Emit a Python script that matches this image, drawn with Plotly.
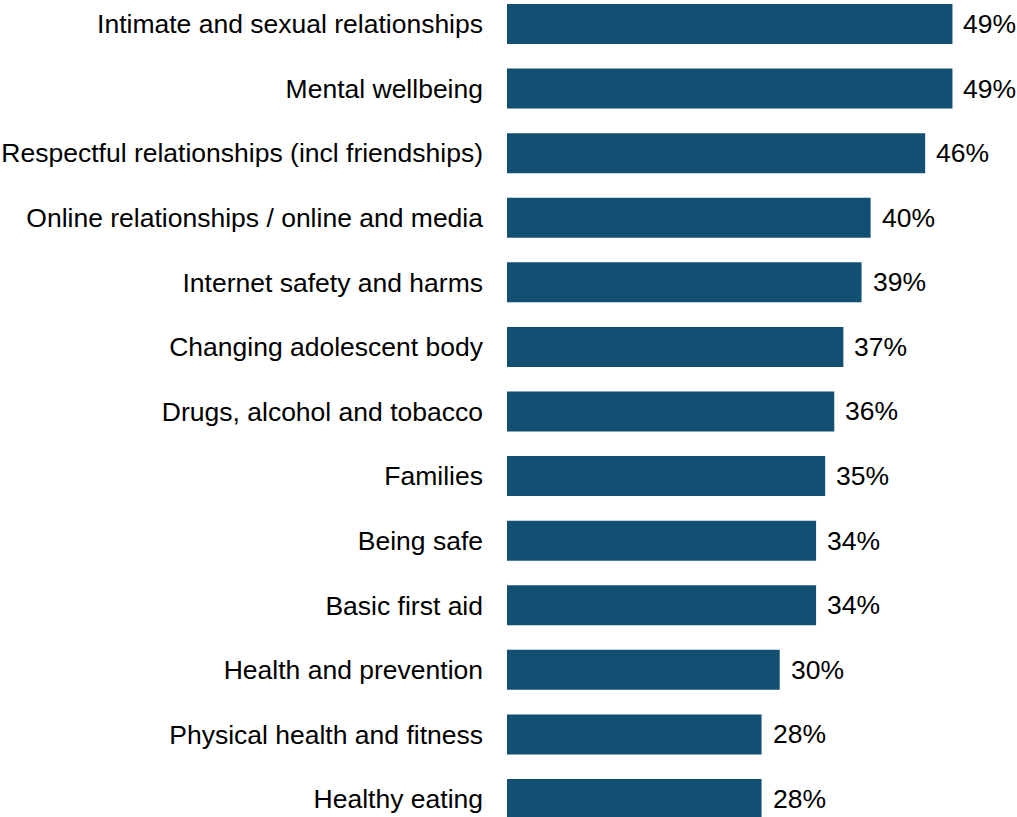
import plotly.graph_objects as go

# Share of respondents selecting each topic (%)
topics = [
    "Intimate and sexual relationships",
    "Mental wellbeing",
    "Respectful relationships (incl friendships)",
    "Online relationships / online and media",
    "Internet safety and harms",
    "Changing adolescent body",
    "Drugs, alcohol and tobacco",
    "Families",
    "Being safe",
    "Basic first aid",
    "Health and prevention",
    "Physical health and fitness",
    "Healthy eating",
]
shares = [49, 49, 46, 40, 39, 37, 36, 35, 34, 34, 30, 28, 28]

BAR_COLOR = "#134f73"
FONT = "Liberation Sans, Arial, sans-serif"
FONT_SIZE = 26.5

fig = go.Figure(
    go.Bar(
        x=shares,
        y=topics,
        orientation="h",
        marker=dict(color=BAR_COLOR, line=dict(width=0)),
        hoverinfo="skip",
    )
)

# Value labels just to the right of each bar end
for t, v in zip(topics, shares):
    fig.add_annotation(
        x=v, y=t, text=f"{v}%", showarrow=False,
        xanchor="left", yanchor="middle", xshift=9,
        font=dict(family=FONT, size=FONT_SIZE, color="#000000"),
    )

fig.update_layout(
    width=1017,
    height=817,
    margin=dict(l=507, r=0, t=0, b=0),
    paper_bgcolor="white",
    plot_bgcolor="white",
    bargap=0.38,
    showlegend=False,
    font=dict(family=FONT, size=FONT_SIZE, color="#000000"),
)
fig.update_xaxes(
    range=[0, 56.1], visible=False, showgrid=False, zeroline=False,
)
fig.update_yaxes(
    categoryorder="array", categoryarray=topics,
    range=[12.279, -0.3716],
    showgrid=False, zeroline=False, showline=False,
    ticks="", ticklabelstandoff=23,
    tickfont=dict(family=FONT, size=FONT_SIZE, color="#000000"),
)

fig.write_html("out.html")
